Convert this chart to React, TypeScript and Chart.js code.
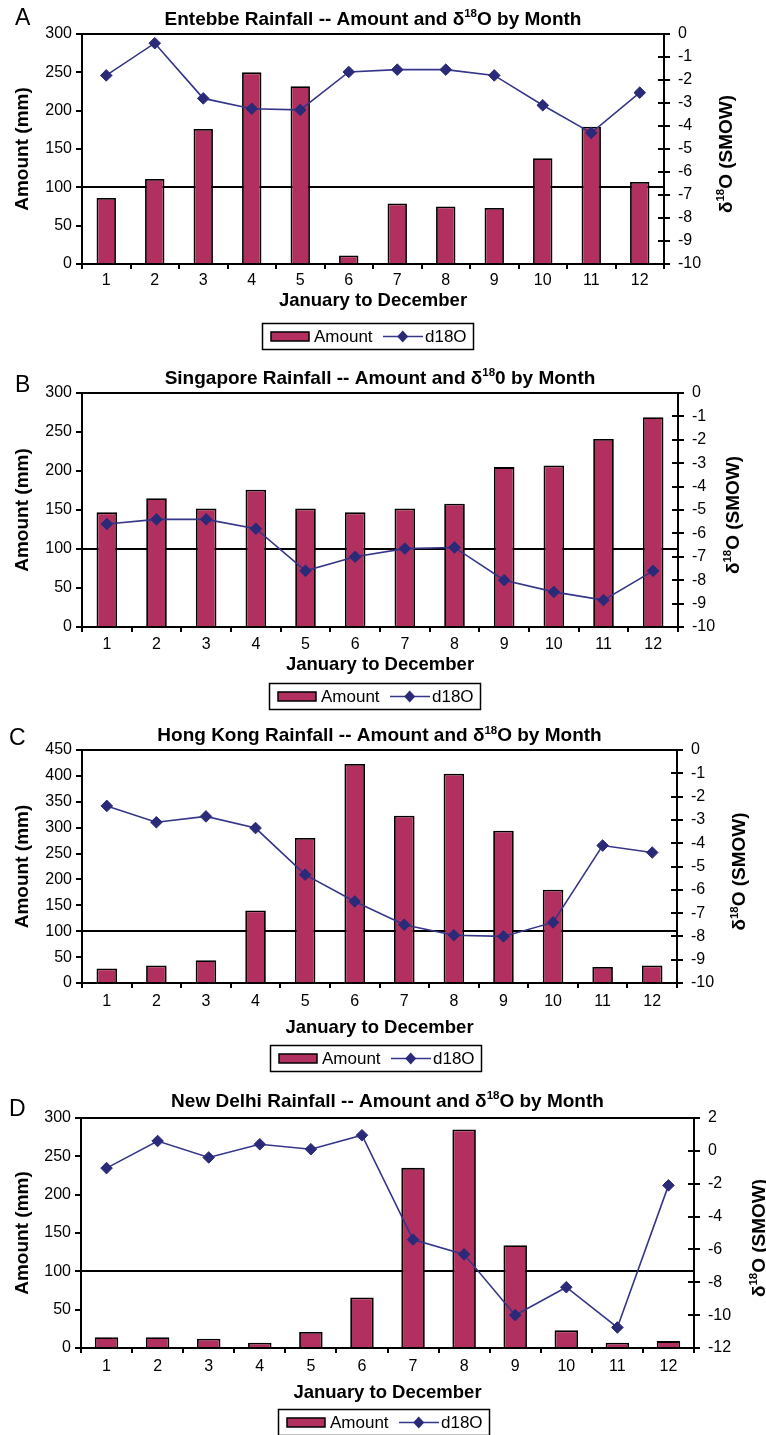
import React, { useEffect, useRef } from 'react';
import { Chart, registerables } from 'chart.js';

Chart.register(...registerables);

const FONT = "Arial, 'Liberation Sans', Helvetica, sans-serif";
const BAR_COLOR = '#B2305F';
const LINE_COLOR = '#35358A';
const POINT_COLOR = '#2A2A78';
const TITLE_SIZE = 19;
const AXIS_TITLE_SIZE = 18.5;
const SIDE_TITLE_SIZE = 19;

// ---- data ----
const months = ['1', '2', '3', '4', '5', '6', '7', '8', '9', '10', '11', '12'];

const entebbeAmount = [86, 111, 176, 250, 232, 11, 79, 75, 73, 138, 179, 107];
const entebbeD18O = [-1.8, -0.4, -2.8, -3.25, -3.3, -1.65, -1.55, -1.55, -1.8, -3.1, -4.3, -2.55];

const singaporeAmount = [147, 165, 152, 176, 152, 147, 152, 158, 205, 207, 241, 269];
const singaporeD18O = [-5.6, -5.4, -5.4, -5.8, -7.6, -7.0, -6.65, -6.6, -8.0, -8.5, -8.85, -7.6];

const hongKongAmount = [28, 34, 44, 140, 280, 423, 323, 404, 294, 180, 31, 34];
const hongKongD18O = [-2.4, -3.1, -2.85, -3.35, -5.35, -6.5, -7.5, -7.95, -8.0, -7.4, -4.1, -4.4];

const newDelhiAmount = [14, 14, 12, 7, 21, 66, 235, 285, 134, 23, 7, 9];
const newDelhiD18O = [-1.05, 0.6, -0.4, 0.4, 0.1, 0.95, -5.4, -6.3, -10.0, -8.3, -10.75, -2.1];

const amountTicksStep = 50;
const referenceLine = 100;

type Panel = {
  letter: string;
  titleStart: string;
  titleSup: string;
  titleEnd: string;
  amount: number[];
  d18o: number[];
  yMax: number;
  y1Min: number;
  y1Max: number;
  y1Step: number;
  canvasTop: number;
  canvasHeight: number;
  chartTop: number;
  chartBottom: number;
  chartLeft: number;
  chartRight: number;
  barPct: number;
  xLabelPad: number;
  xTitleY: number;
  titleY: number;
  letterX: number;
  letterY: number;
  rightTitleX: number;
  legendLeft: number;
  legendTop: number;
};

const panels: Panel[] = [
  {
    letter: 'A',
    titleStart: 'Entebbe Rainfall -- Amount and \u03B4',
    titleSup: '18',
    titleEnd: 'O by Month',
    amount: entebbeAmount,
    d18o: entebbeD18O,
    yMax: 300, y1Min: -10, y1Max: 0, y1Step: 1,
    canvasTop: 0, canvasHeight: 358,
    chartTop: 34, chartBottom: 264, chartLeft: 82, chartRight: 664,
    barPct: 0.4, xLabelPad: 2, xTitleY: 301, titleY: 18,
    letterX: 15, letterY: 18.5, rightTitleX: 725,
    legendLeft: 262, legendTop: 323,
  },
  {
    letter: 'B',
    titleStart: 'Singapore Rainfall -- Amount and \u03B4',
    titleSup: '18',
    titleEnd: '0 by Month',
    amount: singaporeAmount,
    d18o: singaporeD18O,
    yMax: 300, y1Min: -10, y1Max: 0, y1Step: 1,
    canvasTop: 358, canvasHeight: 362,
    chartTop: 393, chartBottom: 627, chartLeft: 82, chartRight: 678,
    barPct: 0.415, xLabelPad: 3, xTitleY: 665, titleY: 377,
    letterX: 15, letterY: 385.5, rightTitleX: 732,
    legendLeft: 269, legendTop: 683,
  },
  {
    letter: 'C',
    titleStart: 'Hong Kong Rainfall -- Amount and \u03B4',
    titleSup: '18',
    titleEnd: 'O by Month',
    amount: hongKongAmount,
    d18o: hongKongD18O,
    yMax: 450, y1Min: -10, y1Max: 0, y1Step: 1,
    canvasTop: 720, canvasHeight: 358,
    chartTop: 750, chartBottom: 983, chartLeft: 82, chartRight: 677,
    barPct: 0.415, xLabelPad: 4, xTitleY: 1027.5, titleY: 734.5,
    letterX: 9, letterY: 738.5, rightTitleX: 738.5,
    legendLeft: 270, legendTop: 1045,
  },
  {
    letter: 'D',
    titleStart: 'New Delhi Rainfall -- Amount and \u03B4',
    titleSup: '18',
    titleEnd: 'O by Month',
    amount: newDelhiAmount,
    d18o: newDelhiD18O,
    yMax: 300, y1Min: -12, y1Max: 2, y1Step: 2,
    canvasTop: 1078, canvasHeight: 357,
    chartTop: 1118, chartBottom: 1348, chartLeft: 81, chartRight: 694,
    barPct: 0.46, xLabelPad: 4, xTitleY: 1392.5, titleY: 1100,
    letterX: 9, letterY: 1110, rightTitleX: 758,
    legendLeft: 278, legendTop: 1409,
  },
];

type Seg = { text: string; size: number; rise?: number };

function drawRich(ctx: CanvasRenderingContext2D, segs: Seg[], cx: number, cy: number, mainSize: number) {
  let total = 0;
  const widths = segs.map((s) => {
    ctx.font = `bold ${s.size}px ${FONT}`;
    const w = ctx.measureText(s.text).width;
    total += w;
    return w;
  });
  let x = cx - total / 2;
  ctx.textAlign = 'left';
  ctx.textBaseline = 'alphabetic';
  const baseline = cy + mainSize * 0.358;
  segs.forEach((s, i) => {
    ctx.font = `bold ${s.size}px ${FONT}`;
    ctx.fillText(s.text, x, baseline - (s.rise || 0));
    x += widths[i];
  });
}

function makeDecor(p: Panel) {
  return {
    id: 'decor' + p.letter,
    afterDraw(chart: any) {
      const ctx: CanvasRenderingContext2D = chart.ctx;
      const ca = chart.chartArea;
      const off = p.canvasTop;
      ctx.save();

      // inner half of the right-axis tick marks (crossing ticks)
      const y1 = chart.scales.y1;
      ctx.strokeStyle = '#000';
      ctx.lineWidth = 2;
      y1.ticks.forEach((t: any) => {
        const y = Math.round(y1.getPixelForValue(t.value));
        ctx.beginPath();
        ctx.moveTo(ca.right - 6, y);
        ctx.lineTo(ca.right, y);
        ctx.stroke();
      });

      // panel letter
      ctx.fillStyle = '#000';
      ctx.font = `23px ${FONT}`;
      ctx.textAlign = 'left';
      ctx.textBaseline = 'middle';
      ctx.fillText(p.letter, p.letterX, p.letterY - off);

      // title with superscript
      const cx = (ca.left + ca.right) / 2;
      drawRich(
        ctx,
        [
          { text: p.titleStart, size: TITLE_SIZE },
          { text: p.titleSup, size: 11.5, rise: 7.5 },
          { text: p.titleEnd, size: TITLE_SIZE },
        ],
        cx,
        p.titleY - off,
        TITLE_SIZE
      );

      // right axis title, rotated to read bottom-to-top
      ctx.save();
      ctx.translate(p.rightTitleX, (ca.top + ca.bottom) / 2 + 5);
      ctx.rotate(-Math.PI / 2);
      drawRich(
        ctx,
        [
          { text: '\u03B4', size: SIDE_TITLE_SIZE },
          { text: '18', size: 11.5, rise: 7.5 },
          { text: 'O (SMOW)', size: SIDE_TITLE_SIZE },
        ],
        0,
        0,
        SIDE_TITLE_SIZE
      );
      ctx.restore();

      // legend
      const lx = p.legendLeft;
      const ly = p.legendTop - off;
      const lw = 211;
      const lh = 26;
      ctx.strokeStyle = '#000';
      ctx.lineWidth = 1.5;
      ctx.strokeRect(lx + 0.5, ly + 0.5, lw, lh);
      const cy = ly + lh / 2 + 0.5;
      ctx.fillStyle = BAR_COLOR;
      ctx.fillRect(lx + 9, cy - 4.5, 38, 9);
      ctx.strokeRect(lx + 9, cy - 4.5, 38, 9);
      ctx.fillStyle = '#000';
      ctx.font = `17px ${FONT}`;
      ctx.textBaseline = 'middle';
      ctx.textAlign = 'left';
      ctx.fillText('Amount', lx + 52, cy + 1);
      ctx.strokeStyle = LINE_COLOR;
      ctx.lineWidth = 1.5;
      ctx.beginPath();
      ctx.moveTo(lx + 121, cy);
      ctx.lineTo(lx + 161, cy);
      ctx.stroke();
      const dx = lx + 140.7;
      ctx.fillStyle = POINT_COLOR;
      ctx.beginPath();
      ctx.moveTo(dx - 5.5, cy);
      ctx.lineTo(dx, cy - 6);
      ctx.lineTo(dx + 5.5, cy);
      ctx.lineTo(dx, cy + 6);
      ctx.closePath();
      ctx.fill();
      ctx.fillStyle = '#000';
      ctx.fillText('d18O', lx + 163, cy + 1);

      ctx.restore();
    },
  };
}

function buildConfig(p: Panel): any {
  const xHeight = p.xTitleY + (AXIS_TITLE_SIZE * 1.2) / 2 - p.chartBottom;
  const padTop = p.chartTop - p.canvasTop;
  const padBottom = p.canvasHeight - (p.chartBottom - p.canvasTop) - xHeight;
  return {
    type: 'bar',
    data: {
      labels: months,
      datasets: [
        {
          type: 'line',
          label: 'd18O',
          data: p.d18o,
          yAxisID: 'y1',
          order: 0,
          borderColor: LINE_COLOR,
          borderWidth: 1.6,
          tension: 0,
          pointStyle: 'rectRot',
          pointRadius: 5.8,
          pointBorderWidth: 1,
          pointBackgroundColor: POINT_COLOR,
          pointBorderColor: POINT_COLOR,
          fill: false,
        },
        {
          type: 'bar',
          label: 'Amount',
          data: p.amount,
          yAxisID: 'y',
          order: 1,
          backgroundColor: BAR_COLOR,
          borderColor: '#000',
          borderWidth: 1.8,
          barPercentage: p.barPct,
          categoryPercentage: 1,
        },
      ],
    },
    options: {
      responsive: false,
      maintainAspectRatio: false,
      animation: false,
      events: [],
      layout: { padding: { top: padTop, bottom: padBottom, left: 0, right: 0 } },
      plugins: {
        legend: { display: false },
        title: { display: false },
        tooltip: { enabled: false },
      },
      scales: {
        x: {
          type: 'category',
          position: 'bottom',
          offset: true,
          grid: {
            offset: true,
            drawOnChartArea: false,
            drawTicks: true,
            tickLength: 5,
            color: '#000',
            lineWidth: 2,
          },
          border: { display: true, color: '#000', width: 2 },
          ticks: { color: '#000', font: { family: FONT, size: 16 }, padding: p.xLabelPad, maxRotation: 0, autoSkip: false },
          title: {
            display: true,
            text: 'January to December',
            color: '#000',
            font: { family: FONT, size: AXIS_TITLE_SIZE, weight: 'bold' },
            padding: { top: 0, bottom: 0 },
          },
          afterFit: (s: any) => {
            s.height = xHeight;
          },
        },
        y: {
          type: 'linear',
          position: 'left',
          min: 0,
          max: p.yMax,
          ticks: { stepSize: amountTicksStep, color: '#000', font: { family: FONT, size: 16 }, padding: 4 },
          grid: {
            drawOnChartArea: true,
            tickLength: 6,
            lineWidth: 2,
            tickColor: '#000',
            color: (c: any) =>
              c.tick && (c.tick.value === p.yMax || c.tick.value === referenceLine) ? '#000' : 'rgba(0,0,0,0)',
          },
          border: { display: true, color: '#000', width: 2 },
          title: {
            display: true,
            text: 'Amount (mm)',
            color: '#000',
            font: { family: FONT, size: SIDE_TITLE_SIZE, weight: 'bold' },
            padding: { top: 11.5, bottom: 0 },
          },
          afterFit: (s: any) => {
            s.width = p.chartLeft;
          },
        },
        y1: {
          type: 'linear',
          position: 'right',
          min: p.y1Min,
          max: p.y1Max,
          ticks: { stepSize: p.y1Step, color: '#000', font: { family: FONT, size: 16 }, padding: 8 },
          grid: { drawOnChartArea: false, tickLength: 6, lineWidth: 2, color: '#000' },
          border: { display: true, color: '#000', width: 2 },
          afterFit: (s: any) => {
            s.width = 766 - p.chartRight;
          },
        },
      },
    },
    plugins: [makeDecor(p)],
  };
}

function PanelChart({ panel }: { panel: Panel }) {
  const ref = useRef<HTMLCanvasElement | null>(null);
  useEffect(() => {
    if (!ref.current) return;
    const chart = new Chart(ref.current, buildConfig(panel));
    return () => chart.destroy();
  }, [panel]);
  return (
    <canvas
      ref={ref}
      width={766}
      height={panel.canvasHeight}
      style={{ position: 'absolute', left: 0, top: panel.canvasTop, width: 766, height: panel.canvasHeight }}
    />
  );
}

export default function App() {
  return (
    <div
      style={{
        position: 'absolute',
        left: 0,
        top: 0,
        width: 766,
        height: 1435,
        background: '#fff',
        overflow: 'hidden',
      }}
    >
      {panels.map((p) => (
        <PanelChart key={p.letter} panel={p} />
      ))}
    </div>
  );
}
